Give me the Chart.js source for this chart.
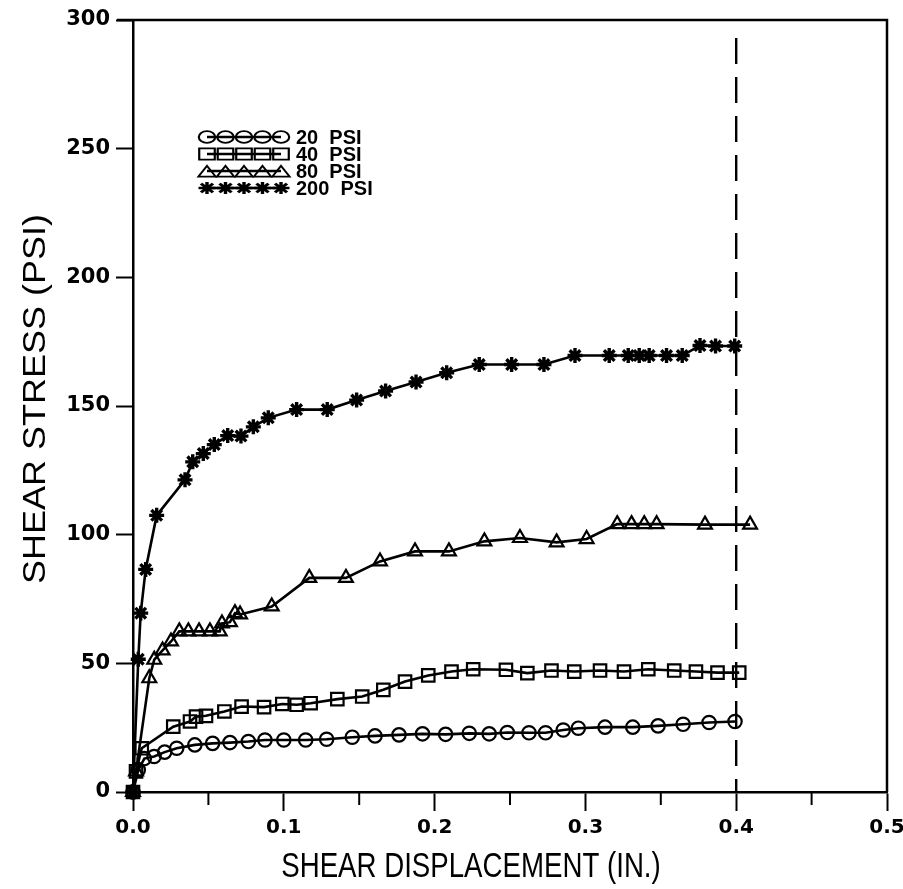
<!DOCTYPE html>
<html>
<head>
<meta charset="utf-8">
<title>Shear stress vs shear displacement</title>
<script src="https://cdn.jsdelivr.net/npm/chart.js@4/dist/chart.umd.min.js"></script>
<style>
  html, body { margin: 0; padding: 0; background: #ffffff; }
  #wrap { width: 903px; height: 889px; }
</style>
</head>
<body>
<div id="wrap"><canvas id="c" width="903" height="889"></canvas></div>
<script>
// Shear displacement (in.) and shear stress (psi) for each normal stress level
const disp20 = [0, 0.0035, 0.0075, 0.014, 0.021, 0.029, 0.041, 0.0528, 0.0643, 0.0765, 0.0875, 0.1, 0.1145, 0.1284, 0.1454, 0.1605, 0.1764, 0.192, 0.2073, 0.223, 0.2362, 0.2482, 0.2626, 0.2736, 0.2853, 0.2953, 0.313, 0.3314, 0.3482, 0.3648, 0.382, 0.3992];
const stress20 = [0, 8.6, 13, 13.8, 15.5, 17, 18.3, 18.9, 19.2, 19.6, 20.2, 20.2, 20.2, 20.5, 21.3, 21.8, 22.2, 22.6, 22.4, 22.8, 22.6, 23.1, 23, 23, 24.1, 24.8, 25.2, 25.2, 25.7, 26.3, 27, 27.4];

const disp40 = [0, 0.002, 0.0058, 0.0267, 0.0378, 0.0418, 0.0484, 0.0606, 0.072, 0.0869, 0.099, 0.1085, 0.1178, 0.1355, 0.152, 0.166, 0.1804, 0.1958, 0.2112, 0.2256, 0.2473, 0.2615, 0.2775, 0.2926, 0.3097, 0.3256, 0.3417, 0.3589, 0.3733, 0.3876, 0.402];
const stress40 = [0, 8, 17, 25.4, 27.4, 29.3, 29.6, 31.3, 33.2, 33, 34.2, 33.9, 34.5, 36.1, 37.1, 39.7, 42.9, 45.3, 46.8, 47.7, 47.5, 46.2, 47.2, 46.8, 47.2, 46.8, 47.7, 47.2, 46.8, 46.4, 46.4];

const disp80 = [0, 0.002, 0.0108, 0.0141, 0.0196, 0.0252, 0.0307, 0.0367, 0.0438, 0.051, 0.0575, 0.059, 0.0643, 0.0676, 0.071, 0.092, 0.1169, 0.1412, 0.1638, 0.187, 0.2095, 0.233, 0.2566, 0.2809, 0.3008, 0.3211, 0.3306, 0.339, 0.3472, 0.3793, 0.4092];
const stress80 = [0, 8, 44.2, 51.4, 55, 58.5, 62.4, 62.4, 62.4, 62.4, 62.4, 65.5, 66, 69.5, 69, 72.1, 83.2, 83.2, 89.6, 93.5, 93.5, 97.4, 98.7, 97, 98.3, 104.1, 104.1, 104.1, 104.1, 103.9, 103.9];

const disp200 = [0, 0.0035, 0.0051, 0.0084, 0.0157, 0.0345, 0.0396, 0.0466, 0.0539, 0.0628, 0.0716, 0.0798, 0.0897, 0.1085, 0.1288, 0.1483, 0.1675, 0.1877, 0.208, 0.2296, 0.2511, 0.2725, 0.2931, 0.3158, 0.3284, 0.3357, 0.3423, 0.3538, 0.3642, 0.376, 0.3863, 0.399];
const stress200 = [0, 51.6, 69.5, 86.5, 107.5, 121.3, 128.3, 131.5, 135, 138.5, 138.3, 141.9, 145.4, 148.6, 148.6, 152.3, 155.8, 159.3, 162.9, 166.1, 166.1, 166.1, 169.6, 169.6, 169.6, 169.6, 169.6, 169.6, 169.6, 173.5, 173.3, 173.3];

const seriesLabels = ['20  PSI', '40  PSI', '80  PSI', '200  PSI'];
const xTicks = [0, 0.1, 0.2, 0.3, 0.4, 0.5];
const yTicks = [0, 50, 100, 150, 200, 250, 300];
const failureDisp = 0.4;   // displacement limit shown as the dashed line
const xTitle = 'SHEAR DISPLACEMENT (IN.)';
const yTitle = 'SHEAR STRESS (PSI)';

const zip = (xs, ys) => xs.map((x, i) => ({ x: x, y: ys[i] }));

// plot markers, plus the (wider) size used in the key
const markerStyles = [
  { pointStyle: 'circle',   radius: 6.7, borderWidth: 2.2, keyRadius: 8.2 },
  { pointStyle: 'rect',     radius: 8.8, borderWidth: 2.2, keyRadius: 11 },
  { pointStyle: 'triangle', radius: 8.0, borderWidth: 2.2, keyRadius: 10 },
  { pointStyle: 'star',     radius: 7.5, borderWidth: 3.4, keyRadius: 8.5 }
];

function makeSet(label, xs, ys, m) {
  return {
    label: label,
    data: zip(xs, ys),
    showLine: true,
    borderColor: '#000',
    borderWidth: 2.6,
    backgroundColor: 'rgba(0,0,0,0)',
    pointBackgroundColor: 'rgba(0,0,0,0)',
    pointBorderColor: '#000',
    pointStyle: m.pointStyle,
    pointRadius: m.radius,
    pointBorderWidth: m.borderWidth,
    pointHoverRadius: m.radius,
    tension: 0,
    clip: false
  };
}

const datasets = [
  makeSet(seriesLabels[0], disp20, stress20, markerStyles[0]),
  makeSet(seriesLabels[1], disp40, stress40, markerStyles[1]),
  makeSet(seriesLabels[2], disp80, stress80, markerStyles[2]),
  makeSet(seriesLabels[3], disp200, stress200, markerStyles[3])
];

// Frame, minor ticks, dashed limit line, titles and the marker key
const decorations = {
  id: 'decorations',
  beforeDatasetsDraw(chart) {
    const { ctx, chartArea: a, scales } = chart;
    const xs = scales.x, ys = scales.y;
    ctx.save();
    ctx.strokeStyle = '#000';
    // top and right frame lines
    ctx.lineWidth = 2.5;
    ctx.beginPath();
    ctx.moveTo(a.left - 16, a.top);
    ctx.lineTo(a.right, a.top);
    ctx.lineTo(a.right, a.bottom);
    ctx.stroke();
    // minor x ticks every 0.05
    ctx.lineWidth = 2;
    for (let v = 0.05; v < 0.5; v += 0.1) {
      const px = xs.getPixelForValue(v);
      ctx.beginPath();
      ctx.moveTo(px, a.bottom);
      ctx.lineTo(px, a.bottom + 13);
      ctx.stroke();
    }
    // dashed vertical line at the displacement limit
    const lx = xs.getPixelForValue(failureDisp);
    ctx.lineWidth = 2.4;
    ctx.setLineDash([26, 13]);
    ctx.beginPath();
    ctx.moveTo(lx, ys.getPixelForValue(293));
    ctx.lineTo(lx, a.bottom);
    ctx.stroke();
    ctx.setLineDash([]);
    ctx.restore();
  },
  afterDraw(chart) {
    const { ctx } = chart;
    ctx.save();
    ctx.fillStyle = '#000';
    // axis titles in a tall narrow face
    ctx.font = '35px "Liberation Sans", Arial, sans-serif';
    ctx.textAlign = 'center';
    ctx.textBaseline = 'middle';
    ctx.save();
    ctx.translate(471, 867);
    ctx.scale(0.79, 1);
    ctx.fillText(xTitle, 0, 0);
    ctx.restore();

    ctx.save();
    ctx.translate(37, 399);
    ctx.rotate(-Math.PI / 2);
    ctx.scale(1.0, 0.85);
    ctx.font = '36px "Liberation Sans", Arial, sans-serif';
    ctx.fillText(yTitle, 0, 0);
    ctx.restore();

    // key: five touching markers on a line, then the label
    const rowY = [137, 154, 171, 188];
    const x0 = 207, step = 18.5;
    ctx.font = 'bold 20px "Liberation Sans", Arial, sans-serif';
    ctx.textAlign = 'left';
    ctx.textBaseline = 'middle';
    chart.data.datasets.forEach((ds, i) => {
      const y = rowY[i];
      ctx.strokeStyle = '#000';
      ctx.lineWidth = 2.4;
      ctx.beginPath();
      ctx.moveTo(x0, y);
      ctx.lineTo(x0 + 4 * step, y);
      ctx.stroke();
      const m = markerStyles[i];
      for (let k = 0; k < 5; k++) {
        ctx.save();
        ctx.translate(x0 + k * step, y + (m.pointStyle === 'triangle' ? 2 : 0));
        ctx.scale(1, 0.72);
        ctx.fillStyle = 'rgba(0,0,0,0)';
        ctx.strokeStyle = '#000';
        ctx.lineWidth = m.borderWidth;
        Chart.helpers.drawPoint(ctx, {
          pointStyle: m.pointStyle,
          radius: m.keyRadius,
          rotation: 0,
          borderWidth: m.borderWidth
        }, 0, 0);
        ctx.restore();
      }
      ctx.fillStyle = '#000';
      ctx.fillText(ds.label, x0 + 4 * step + 15, y + 1);
    });
    ctx.restore();
  }
};

new Chart(document.getElementById('c'), {
  type: 'scatter',
  data: { datasets: datasets },
  plugins: [decorations],
  options: {
    responsive: false,
    animation: false,
    layout: { padding: { top: 20, right: 16, left: 0, bottom: 0 } },
    plugins: {
      legend: { display: false },
      tooltip: { enabled: false }
    },
    scales: {
      x: {
        type: 'linear',
        min: 0,
        max: 0.5,
        afterFit(scale) {
          scale.height = 97;
          scale.paddingLeft = 0;
          scale.paddingRight = 0;
        },
        afterBuildTicks(scale) { scale.ticks = xTicks.map(v => ({ value: v })); },
        ticks: {
          color: '#000',
          padding: 5,
          font: { family: '"DejaVu Sans", sans-serif', size: 20, weight: 'bold' },
          callback: v => Number(v).toFixed(1)
        },
        grid: {
          drawOnChartArea: false,
          drawTicks: true,
          tickLength: 19,
          tickWidth: 2,
          tickColor: '#000'
        },
        border: { display: true, color: '#000', width: 2.5 }
      },
      y: {
        type: 'linear',
        min: 0,
        max: 300,
        afterFit(scale) {
          scale.width = 133;
          scale.paddingTop = 0;
          scale.paddingBottom = 0;
        },
        afterBuildTicks(scale) { scale.ticks = yTicks.map(v => ({ value: v })); },
        ticks: {
          color: '#000',
          padding: 6,
          font: { family: '"DejaVu Sans", sans-serif', size: 21, weight: 'bold' }
        },
        grid: {
          drawOnChartArea: false,
          drawTicks: true,
          tickLength: 17,
          tickWidth: 2,
          tickColor: '#000'
        },
        border: { display: true, color: '#000', width: 2.5 }
      }
    }
  }
});
</script>
</body>
</html>
